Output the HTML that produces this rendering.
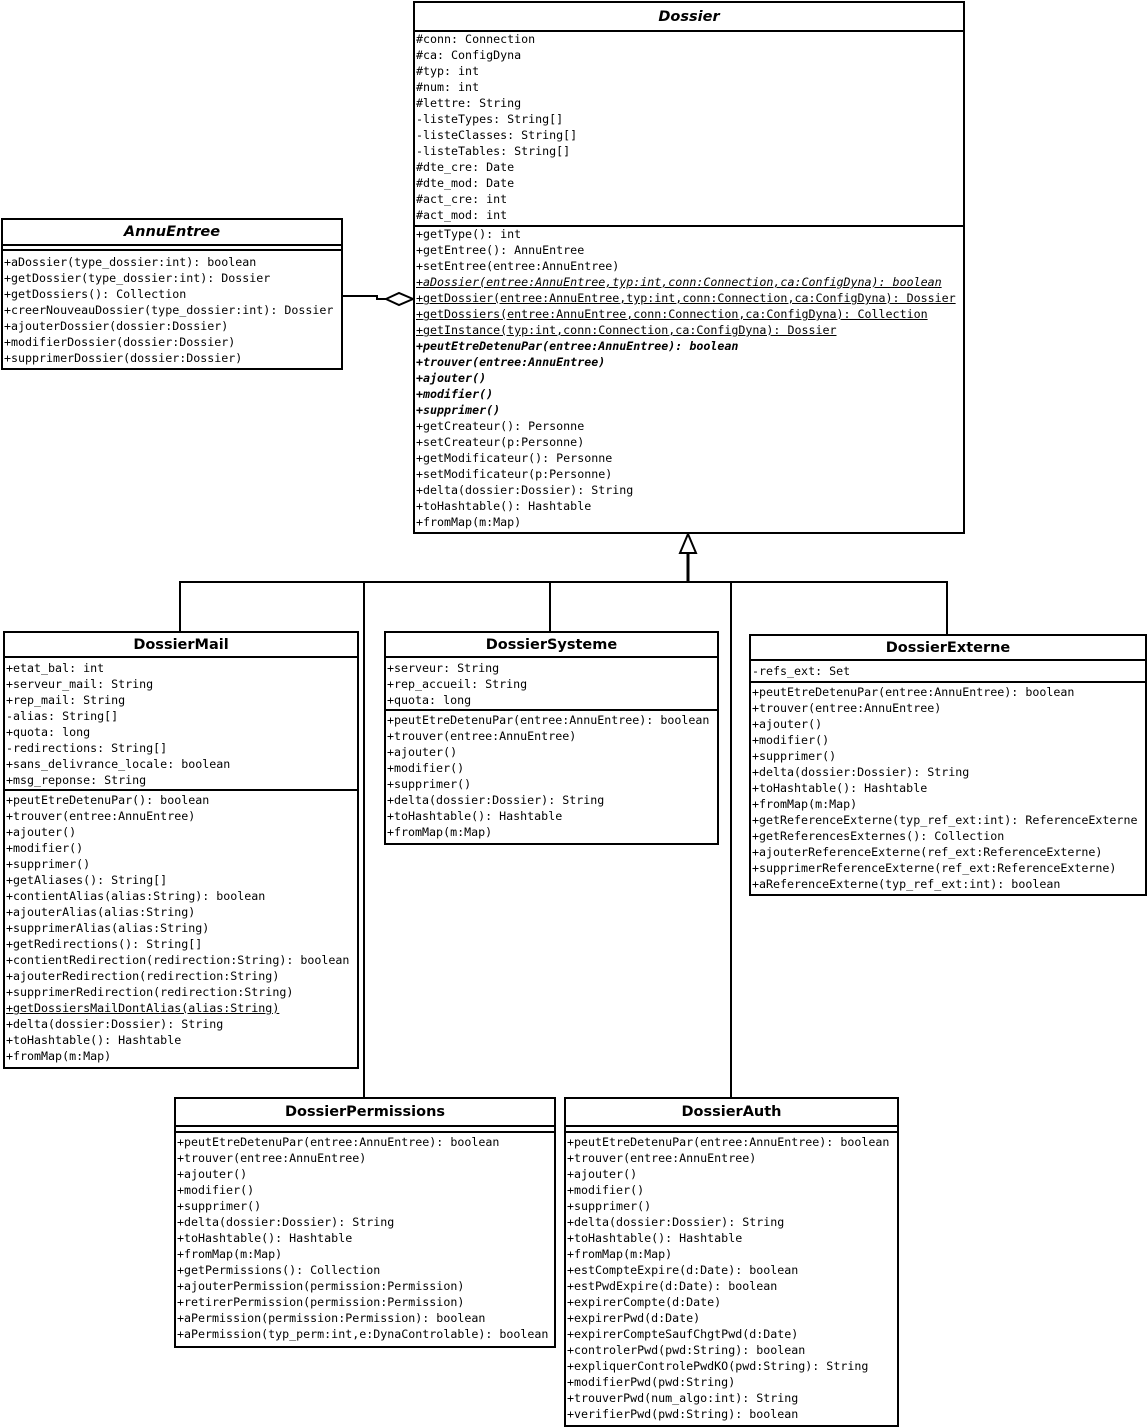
<!DOCTYPE html>
<html><head><meta charset="utf-8"><style>
body{margin:0;width:1147px;height:1427px;background:#fff;position:relative;overflow:hidden}
.b{position:absolute;border:2px solid #000;box-sizing:border-box;background:#fff;overflow:hidden}
.t{border-bottom:2px solid #000;text-align:center;font:bold 14.5px "DejaVu Sans",sans-serif;display:flex;align-items:center;justify-content:center}
.i{font-style:italic}
.s{border-bottom:2px solid #000;padding-left:1px;font:11.65px "DejaVu Sans Mono",monospace}
.s:last-child{border-bottom:none}
.s div{height:16px;line-height:15px;white-space:pre}
.u{text-decoration:underline}
.bi{font-weight:bold;font-style:italic}
.it{font-style:italic}
svg{position:absolute;left:0;top:0}
</style></head><body>
<svg width="1147" height="1427">
<g stroke="#000" stroke-width="2" fill="none">
<polyline points="180,631 180,582 947,582 947,634"/>
<line x1="364" y1="582" x2="364" y2="1097"/>
<line x1="550" y1="582" x2="550" y2="631"/>
<line x1="731" y1="582" x2="731" y2="1097"/>
<line x1="688" y1="553" x2="688" y2="582" stroke-width="3"/>
<polygon points="688,534 680,553 696,553" fill="#fff"/>
<polyline points="342,296 377,296 377,299 386,299"/>
<polygon points="386,299 399,293 413,299 399,305" fill="#fff"/>
</g></svg>

<div class="b" style="left:413px;top:1px;width:552px;height:533px">
<div class="t i" style="height:27px">Dossier</div>
<div class="s" style="padding-bottom:1px"><div>#conn: Connection</div><div>#ca: ConfigDyna</div><div>#typ: int</div><div>#num: int</div><div>#lettre: String</div><div>-listeTypes: String[]</div><div>-listeClasses: String[]</div><div>-listeTables: String[]</div><div>#dte_cre: Date</div><div>#dte_mod: Date</div><div>#act_cre: int</div><div>#act_mod: int</div></div>
<div class="s"><div>+getType(): int</div><div>+getEntree(): AnnuEntree</div><div>+setEntree(entree:AnnuEntree)</div><div class="u it">+aDossier(entree:AnnuEntree,typ:int,conn:Connection,ca:ConfigDyna): boolean</div><div class="u">+getDossier(entree:AnnuEntree,typ:int,conn:Connection,ca:ConfigDyna): Dossier</div><div class="u">+getDossiers(entree:AnnuEntree,conn:Connection,ca:ConfigDyna): Collection</div><div class="u">+getInstance(typ:int,conn:Connection,ca:ConfigDyna): Dossier</div><div class="bi">+peutEtreDetenuPar(entree:AnnuEntree): boolean</div><div class="bi">+trouver(entree:AnnuEntree)</div><div class="bi">+ajouter()</div><div class="bi">+modifier()</div><div class="bi">+supprimer()</div><div>+getCreateur(): Personne</div><div>+setCreateur(p:Personne)</div><div>+getModificateur(): Personne</div><div>+setModificateur(p:Personne)</div><div>+delta(dossier:Dossier): String</div><div>+toHashtable(): Hashtable</div><div>+fromMap(m:Map)</div></div>
</div>

<div class="b" style="left:1px;top:218px;width:342px;height:152px">
<div class="t i" style="height:24px">AnnuEntree</div>
<div class="s" style="height:3px"></div>
<div class="s" style="padding-top:4px"><div>+aDossier(type_dossier:int): boolean</div><div>+getDossier(type_dossier:int): Dossier</div><div>+getDossiers(): Collection</div><div>+creerNouveauDossier(type_dossier:int): Dossier</div><div>+ajouterDossier(dossier:Dossier)</div><div>+modifierDossier(dossier:Dossier)</div><div>+supprimerDossier(dossier:Dossier)</div></div>
</div>

<div class="b" style="left:3px;top:631px;width:356px;height:438px">
<div class="t" style="height:23px">DossierMail</div>
<div class="s" style="padding-top:3px"><div>+etat_bal: int</div><div>+serveur_mail: String</div><div>+rep_mail: String</div><div>-alias: String[]</div><div>+quota: long</div><div>-redirections: String[]</div><div>+sans_delivrance_locale: boolean</div><div>+msg_reponse: String</div></div>
<div class="s" style="padding-top:2px"><div>+peutEtreDetenuPar(): boolean</div><div>+trouver(entree:AnnuEntree)</div><div>+ajouter()</div><div>+modifier()</div><div>+supprimer()</div><div>+getAliases(): String[]</div><div>+contientAlias(alias:String): boolean</div><div>+ajouterAlias(alias:String)</div><div>+supprimerAlias(alias:String)</div><div>+getRedirections(): String[]</div><div>+contientRedirection(redirection:String): boolean</div><div>+ajouterRedirection(redirection:String)</div><div>+supprimerRedirection(redirection:String)</div><div class="u">+getDossiersMailDontAlias(alias:String)</div><div>+delta(dossier:Dossier): String</div><div>+toHashtable(): Hashtable</div><div>+fromMap(m:Map)</div></div>
</div>

<div class="b" style="left:384px;top:631px;width:335px;height:214px">
<div class="t" style="height:23px">DossierSysteme</div>
<div class="s" style="padding-top:3px"><div>+serveur: String</div><div>+rep_accueil: String</div><div>+quota: long</div></div>
<div class="s" style="padding-top:2px"><div>+peutEtreDetenuPar(entree:AnnuEntree): boolean</div><div>+trouver(entree:AnnuEntree)</div><div>+ajouter()</div><div>+modifier()</div><div>+supprimer()</div><div>+delta(dossier:Dossier): String</div><div>+toHashtable(): Hashtable</div><div>+fromMap(m:Map)</div></div>
</div>

<div class="b" style="left:749px;top:634px;width:398px;height:262px">
<div class="t" style="height:23px">DossierExterne</div>
<div class="s" style="padding-top:3px;padding-bottom:1px"><div>-refs_ext: Set</div></div>
<div class="s" style="padding-top:2px"><div>+peutEtreDetenuPar(entree:AnnuEntree): boolean</div><div>+trouver(entree:AnnuEntree)</div><div>+ajouter()</div><div>+modifier()</div><div>+supprimer()</div><div>+delta(dossier:Dossier): String</div><div>+toHashtable(): Hashtable</div><div>+fromMap(m:Map)</div><div>+getReferenceExterne(typ_ref_ext:int): ReferenceExterne</div><div>+getReferencesExternes(): Collection</div><div>+ajouterReferenceExterne(ref_ext:ReferenceExterne)</div><div>+supprimerReferenceExterne(ref_ext:ReferenceExterne)</div><div>+aReferenceExterne(typ_ref_ext:int): boolean</div></div>
</div>

<div class="b" style="left:174px;top:1097px;width:382px;height:251px">
<div class="t" style="height:26px">DossierPermissions</div>
<div class="s" style="height:4px"></div>
<div class="s" style="padding-top:2px"><div>+peutEtreDetenuPar(entree:AnnuEntree): boolean</div><div>+trouver(entree:AnnuEntree)</div><div>+ajouter()</div><div>+modifier()</div><div>+supprimer()</div><div>+delta(dossier:Dossier): String</div><div>+toHashtable(): Hashtable</div><div>+fromMap(m:Map)</div><div>+getPermissions(): Collection</div><div>+ajouterPermission(permission:Permission)</div><div>+retirerPermission(permission:Permission)</div><div>+aPermission(permission:Permission): boolean</div><div>+aPermission(typ_perm:int,e:DynaControlable): boolean</div></div>
</div>

<div class="b" style="left:564px;top:1097px;width:335px;height:330px">
<div class="t" style="height:26px">DossierAuth</div>
<div class="s" style="height:4px"></div>
<div class="s" style="padding-top:2px"><div>+peutEtreDetenuPar(entree:AnnuEntree): boolean</div><div>+trouver(entree:AnnuEntree)</div><div>+ajouter()</div><div>+modifier()</div><div>+supprimer()</div><div>+delta(dossier:Dossier): String</div><div>+toHashtable(): Hashtable</div><div>+fromMap(m:Map)</div><div>+estCompteExpire(d:Date): boolean</div><div>+estPwdExpire(d:Date): boolean</div><div>+expirerCompte(d:Date)</div><div>+expirerPwd(d:Date)</div><div>+expirerCompteSaufChgtPwd(d:Date)</div><div>+controlerPwd(pwd:String): boolean</div><div>+expliquerControlePwdKO(pwd:String): String</div><div>+modifierPwd(pwd:String)</div><div>+trouverPwd(num_algo:int): String</div><div>+verifierPwd(pwd:String): boolean</div></div>
</div>
</body></html>
